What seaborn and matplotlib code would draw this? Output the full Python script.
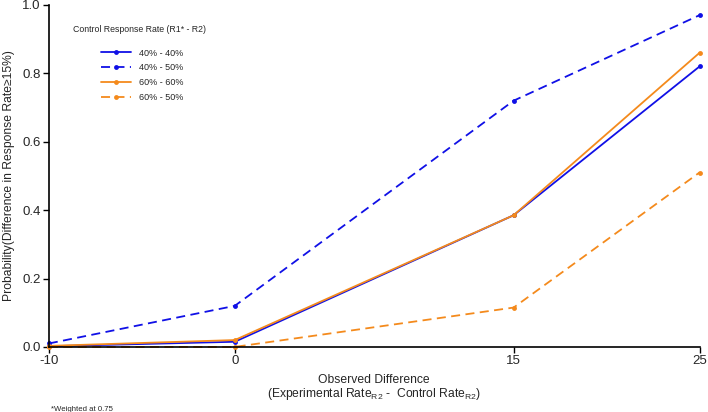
import seaborn as sns
import matplotlib.pyplot as plt
import pandas as pd

observed_diff = [-10, 0, 15, 25]
rate_40_40 = [0.002, 0.015, 0.385, 0.82]
rate_40_50 = [0.01, 0.12, 0.72, 0.97]
rate_60_60 = [0.003, 0.02, 0.385, 0.86]
rate_60_50 = [0.0, 0.0, 0.115, 0.51]
series_names = ['40% - 40%', '40% - 50%', '60% - 60%', '60% - 50%']

sns.set_theme(style='ticks')
plt.rcParams['font.family'] = ['Liberation Sans', 'DejaVu Sans']

rows = []
for name, vals in zip(series_names, [rate_40_40, rate_40_50, rate_60_60, rate_60_50]):
    for x, y in zip(observed_diff, vals):
        rows.append({'diff': x, 'prob': y, 'series': name})
df = pd.DataFrame(rows)

blue = '#1010E6'
orange = '#F48A1C'
palette = {'40% - 40%': blue, '40% - 50%': blue, '60% - 60%': orange, '60% - 50%': orange}
dashes = {'40% - 40%': '', '40% - 50%': (5, 3), '60% - 60%': '', '60% - 50%': (5, 3)}

fig, ax = plt.subplots(figsize=(7.08, 4.12), dpi=100)
fig.subplots_adjust(left=0.069, right=0.988, top=0.988, bottom=0.158)

sns.lineplot(data=df, x='diff', y='prob', hue='series', style='series',
             palette=palette, dashes=dashes, markers={n: 'o' for n in series_names},
             markersize=3.5, markeredgewidth=0, linewidth=1.3, ax=ax, clip_on=False)

ax.set_xlim(-10, 25)
ax.set_ylim(0, 1.0)
ax.set_xticks(observed_diff)
ax.set_xticklabels(['-10', '0', '15', '25'])
ax.set_yticks([0, 0.2, 0.4, 0.6, 0.8, 1.0])
ax.set_yticklabels(['0.0', '0.2', '0.4', '0.6', '0.8', '1.0'])
ax.tick_params(labelsize=9.5, length=4, width=1, color='black', pad=2)
for side in ['left', 'bottom']:
    ax.spines[side].set_linewidth(1.2)
    ax.spines[side].set_color('black')
sns.despine(ax=ax)

ax.set_xlabel('Observed Difference\n(Experimental Rate$_{\\mathregular{R2}}$ -  Control Rate$_{\\mathregular{R2}}$)',
              fontsize=8.7, labelpad=5, linespacing=0.95)
ax.set_ylabel('Probability(Difference in Response Rate≥15%)', fontsize=8.7, labelpad=5)

handles, labels = ax.get_legend_handles_labels()
ax.legend(handles, labels, loc='upper left', bbox_to_anchor=(96 / 708, 1 - 44 / 412),
          bbox_transform=fig.transFigure, frameon=False, fontsize=6.5,
          handlelength=3.4, handletextpad=0.9, labelspacing=0.66, borderpad=0)
fig.text(73 / 708, 1 - 29 / 412, 'Control Response Rate (R1* - R2)', fontsize=6.3, va='center')

fig.text(0.072, 0.003, '*Weighted at 0.75', fontsize=5.6)

plt.savefig('out.png', dpi=100)
